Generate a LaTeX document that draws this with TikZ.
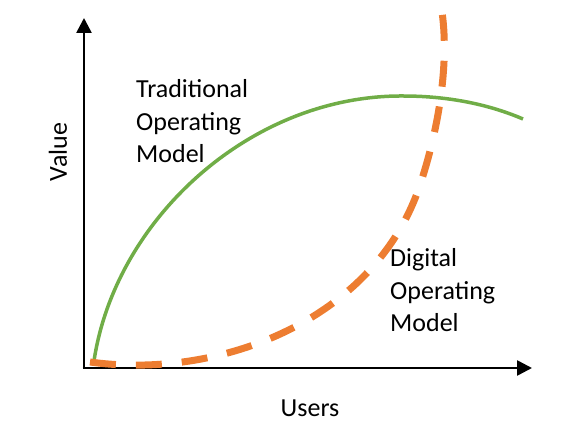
\documentclass[tikz,border=0pt]{standalone}
\usepackage{fontspec}
\setmainfont{Carlito}
\usetikzlibrary{arrows.meta}
\definecolor{tradgreen}{HTML}{70AD47}
\definecolor{digorange}{HTML}{ED7D31}
\begin{document}
\begin{tikzpicture}[x=1pt,y=-1pt,
  axisline/.style={line width=2.6pt,-{Triangle[width=15pt,length=15pt]}},
  tradcurve/.style={tradgreen,line width=3.5pt},
  digcurve/.style={digorange,line width=7pt,dash pattern=on 26pt off 20pt},
  lbl/.style={font=\fontsize{26}{32.5}\selectfont,inner sep=0pt,align=left}]
\useasboundingbox (0,0) rectangle (586,427);
\coordinate (origin) at (84,368);
\coordinate (ytip) at (84,18);
\coordinate (xtip) at (532,368);
\draw[axisline] ([yshift=1.3pt]origin) -- (ytip);
\draw[axisline] ([xshift=-1.3pt]origin) -- (xtip);
\coordinate (gstart) at (94,361);
\coordinate (gpeak) at (403,96);
\coordinate (gend) at (523,119);
\draw[tradcurve] (gstart) .. controls (115,220) and (250,95) .. (gpeak)
  .. controls (455,96) and (495,107) .. (gend);
\coordinate (ostart) at (90,362);
\coordinate (omid) at (420,185);
\coordinate (oend) at (440,0);
\draw[digcurve] (ostart) .. controls (220,380) and (375,320) .. (omid)
  .. controls (437,134) and (452,60) .. (oend);
\node[lbl,anchor=base west] (trad) at (136,163) {Traditional\\Operating\\Model};
\node[lbl,anchor=base west] (dig) at (390,332) {Digital\\Operating\\Model};
\node[lbl,rotate=90] (value) at (58,152) {Value};
\node[lbl] (users) at (310,408) {Users};
\end{tikzpicture}
\end{document}
